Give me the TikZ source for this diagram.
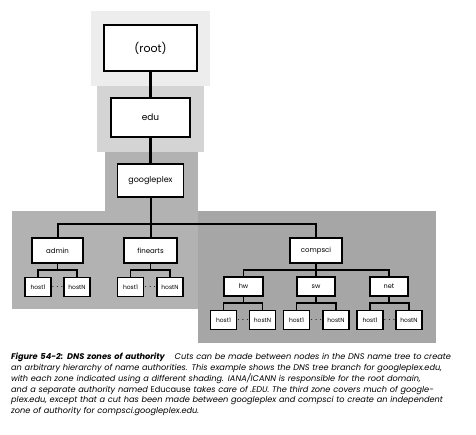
\documentclass[tikz,border=0pt]{standalone}
\usepackage{fontspec}
\setmainfont{Poppins}
\begin{document}
\begin{tikzpicture}[x=1pt,y=-1pt,
  box/.style={draw=black,line width=1.3pt,fill=white,inner sep=0pt,font=\fontsize{#1}{#1}\selectfont},
  hostbox/.style={draw=black,line width=1.1pt,fill=white,inner sep=0pt,minimum width=26pt,minimum height=19pt,font=\fontsize{6}{6}\selectfont},
  bigline/.style={line width=2.6pt},
  midline/.style={line width=2pt},
  smallline/.style={line width=1.2pt},
  dots/.style={inner sep=0pt,font=\fontsize{10}{10}\selectfont}]
\useasboundingbox (0,0) rectangle (476,434);
\fill[white] (0,0) rectangle (476,434);
% zones
\fill[gray!14] (91,11) rectangle (210,86);
\fill[black!17] (97,86) rectangle (204,152);
\fill[black!30] (105,152) rectangle (198,211);
\fill[black!30] (12,211) rectangle (198,309);
\fill[black!35] (198,211) rectangle (436,343);
% nodes
\node[box=11,minimum width=93pt,minimum height=46pt] (root) at (150.5,48) {(root)};
\node[box=9,minimum width=79pt,minimum height=39pt] (edu) at (150.5,117.5) {edu};
\node[box=8,minimum width=66pt,minimum height=33pt] (gp) at (150.5,180.5) {googleplex};
\node[box=7,minimum width=51pt,minimum height=25pt] (admin) at (57.5,250.5) {admin};
\node[box=7,minimum width=53pt,minimum height=25pt] (fine) at (150.5,250.5) {finearts};
\node[box=7,minimum width=52pt,minimum height=25pt] (cs) at (316,250.5) {compsci};
\node[box=6.5,minimum width=39pt,minimum height=19pt] (hw) at (243.5,286.5) {hw};
\node[box=6.5,minimum width=38pt,minimum height=19pt] (sw) at (316,286.5) {sw};
\node[box=6.5,minimum width=38pt,minimum height=19pt] (net) at (389,286.5) {net};
\node[hostbox] (a1) at (38,287) {host1};
\node[hostbox] (aN) at (77,287) {hostN};
\node[hostbox] (f1) at (130.5,287) {host1};
\node[hostbox] (fN) at (170,287) {hostN};
\node[hostbox] (h1) at (223.5,320) {host1};
\node[hostbox] (hN) at (262.5,320) {hostN};
\node[hostbox] (s1) at (296.5,320) {host1};
\node[hostbox] (sN) at (336,320) {hostN};
\node[hostbox] (n1) at (370,320) {host1};
\node[hostbox] (nN) at (409,320) {hostN};
\node[dots] (ad) at (57.5,287) {$\cdots$};
\node[dots] (fd) at (150.25,287) {$\cdots$};
\node[dots] (hd) at (243,320) {$\cdots$};
\node[dots] (sd) at (316.25,320) {$\cdots$};
\node[dots] (nd) at (389.5,320) {$\cdots$};
% bus coordinates
\coordinate (b1) at (150.5,224);
\coordinate (ba) at (57.5,270);
\coordinate (bf) at (150.5,270);
\coordinate (bc) at (316,270);
\coordinate (bh) at (243.5,303);
\coordinate (bs) at (316,303);
\coordinate (bn) at (389,303);
% connectors
\draw[bigline] (root) -- (edu);
\draw[bigline] (edu) -- (gp);
\draw[midline] (gp) -- (fine);
\draw[midline] (admin.north) |- (b1) -| (cs.north);
\draw[smallline] (admin) -- (ba);
\draw[smallline] (a1.north) |- (ba) -| (aN.north);
\draw[smallline] (fine) -- (bf);
\draw[smallline] (f1.north) |- (bf) -| (fN.north);
\draw[smallline] (cs) -- (sw);
\draw[smallline] (hw.north) |- (bc) -| (net.north);
\draw[smallline] (hw) -- (bh);
\draw[smallline] (h1.north) |- (bh) -| (hN.north);
\draw[smallline] (sw) -- (bs);
\draw[smallline] (s1.north) |- (bs) -| (sN.north);
\draw[smallline] (net) -- (bn);
\draw[smallline] (n1.north) |- (bn) -| (nN.north);
% caption
\node[anchor=north west,inner sep=0pt,text width=459pt,align=left,font=\fontsize{8.2}{10.8}\selectfont\itshape] (cap) at (11,353) {%
\makebox[459pt][s]{\textbf{Figure 54-2: DNS zones of authority}\hspace{1.2em}Cuts can be made between nodes in the DNS name tree to create}\\
\makebox[459pt][s]{an arbitrary hierarchy of name authorities. This example shows the DNS tree branch for googleplex.edu,}\\
\makebox[459pt][s]{with each zone indicated using a different shading. IANA/ICANN is responsible for the root domain,}\\
\makebox[459pt][s]{and a separate authority named {\upshape Educause} takes care of .EDU. The third zone covers much of google-}\\
\makebox[459pt][s]{plex.edu, except that a cut has been made between googleplex and compsci to create an independent}\\
zone of authority for compsci.googleplex.edu.};
\end{tikzpicture}
\end{document}
